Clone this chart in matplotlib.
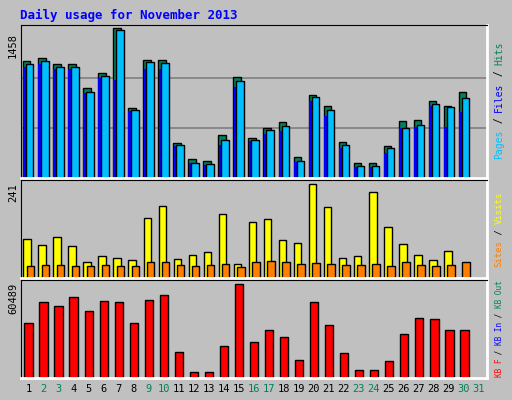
import numpy as np
import matplotlib.pyplot as plt

days = np.arange(1, 32)
hits = [1140, 1170, 1110, 1110, 870, 1020, 1458, 680, 1150, 1150, 340, 180, 170, 420, 980, 390, 490, 540, 200, 810, 700, 350, 150, 150, 310, 550, 560, 750, 700, 840, 0]
files = [1110, 1140, 1080, 1080, 840, 990, 1440, 660, 1130, 1120, 320, 150, 140, 370, 940, 370, 470, 510, 170, 790, 660, 320, 120, 120, 290, 490, 520, 720, 690, 780, 0]
pages = [1080, 1110, 1060, 1060, 830, 970, 950, 650, 1060, 1060, 310, 150, 130, 320, 880, 360, 430, 460, 160, 750, 600, 290, 110, 110, 240, 490, 500, 700, 500, 640, 0]
visits = [100, 84, 105, 81, 40, 56, 50, 45, 153, 185, 48, 60, 66, 164, 37, 143, 151, 96, 90, 241, 182, 50, 55, 219, 130, 88, 58, 47, 70, 0, 0]
sites = [30, 32, 32, 30, 30, 34, 30, 31, 41, 40, 33, 31, 34, 35, 27, 40, 44, 42, 37, 39, 37, 32, 33, 37, 30, 42, 33, 31, 32, 40, 0]
kbytes = [35000, 48500, 46000, 52000, 43000, 49500, 49000, 35500, 50000, 53000, 17000, 4000, 4000, 20500, 60489, 23000, 31000, 26000, 11500, 49000, 34000, 16000, 5000, 5000, 11000, 28000, 38500, 38000, 30500, 30500, 0]
weekend = {2, 3, 9, 10, 16, 17, 23, 24, 30, 31}

W, H = 512, 400
fig = plt.figure(figsize=(W / 100, H / 100), dpi=100, facecolor='#c0c0c0')
mono = 'DejaVu Sans Mono'

def px_axes(x0, y0, x1, y1):
    ax = fig.add_axes([x0 / W, 1 - y1 / H, (x1 - x0) / W, (y1 - y0) / H])
    ax.set_facecolor('#c0c0c0')
    ax.set_xlim(0.5, 31.5)
    ax.set_xticks([])
    ax.set_yticks([])
    for s in ax.spines.values():
        s.set_color('black')
    ax.spines['bottom'].set_color('white')
    ax.spines['right'].set_color('white')
    ax.spines['bottom'].set_linewidth(2)
    ax.spines['right'].set_linewidth(2)
    return ax

ax1 = px_axes(21, 25, 487, 178)
ax1.set_ylim(0, 1458 * 1.02)
for g in [1458 / 3, 1458 * 2 / 3]:
    ax1.axhline(g, color='#808080', lw=1.2, zorder=0)
ax1.bar(days - 0.12, hits, 0.5, color='#00805c', edgecolor='black', lw=1)
ax1.bar(days - 0.2, pages, 0.3, color='#0000ff', lw=0)
ax1.bar(days + 0.08, files, 0.5, color='#00bfff', edgecolor='black', lw=1)

ax2 = px_axes(21, 180, 487, 278)
ax2.set_ylim(0, 241 * 1.04)
ax2.bar(days - 0.1, visits, 0.5, color='#ffff00', edgecolor='black', lw=1)
ax2.bar(days + 0.12, sites, 0.5, color='#ff8000', edgecolor='black', lw=1)

ax3 = px_axes(21, 280, 487, 378)
ax3.set_ylim(0, 60489 * 1.04)
ax3.bar(days, kbytes, 0.55, color='#ff0000', edgecolor='black', lw=1)

for d in days:
    fig.text((21 + (d - 0.5) * 465 / 31) / W, 1 - 389 / H, str(d), ha='center', va='center',
             fontsize=7.5, family=mono, color='#00805c' if d in weekend else 'black')

fig.text(20 / W, 1 - 15 / H, 'Daily usage for November 2013', color='#0000ff',
         fontsize=9, family=mono, weight='bold', va='center')
fig.text(13 / W, 1 - 45 / H, '1458', rotation=90, fontsize=7.5, family=mono, ha='center', va='center')
fig.text(13 / W, 1 - 193 / H, '241', rotation=90, fontsize=7.5, family=mono, ha='center', va='center')
fig.text(13 / W, 1 - 298 / H, '60489', rotation=90, fontsize=7.5, family=mono, ha='center', va='center')

def side(parts, ycenter, fs):
    # stack rotated coloured words bottom-to-top
    total = sum(len(t) for t, _ in parts)
    ch = fs * 100 / 72 * 0.602
    y = ycenter + total * ch / 2
    for t, c in parts:
        fig.text(499 / W, 1 - y / H, t, rotation=90, color=c, fontsize=fs, family=mono,
                 ha='center', va='bottom')
        y -= len(t) * ch

side([('Pages', '#00bfff'), (' / ', 'black'), ('Files', '#0000ff'), (' / ', 'black'), ('Hits', '#00805c')], 100, 7)
side([('Sites', '#ff8000'), (' / ', 'black'), ('Visits', '#ffff00')], 229, 6.5)
side([('KB F', '#ff0000'), (' / ', 'black'), ('KB In', '#0000ff'), (' / ', 'black'), ('KB Out', '#00805c')], 329, 5.5)

fig.savefig('out.png', dpi=100, facecolor='#c0c0c0')
